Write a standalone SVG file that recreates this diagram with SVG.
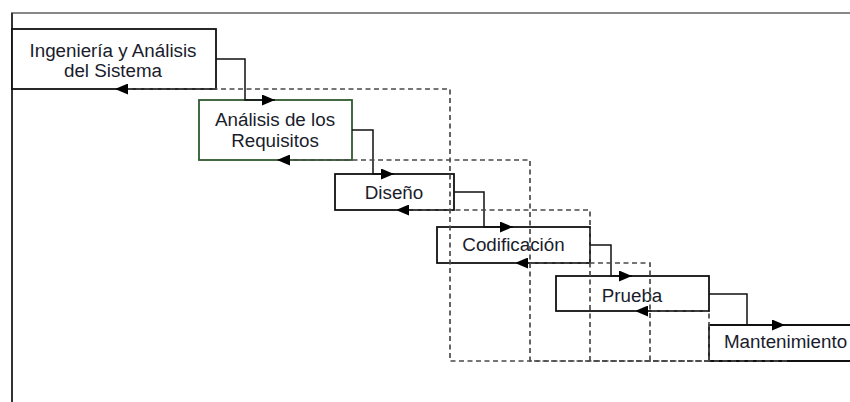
<svg xmlns="http://www.w3.org/2000/svg" width="850" height="402" viewBox="0 0 850 402">
<style>
.box{fill:#fff;stroke:#111;stroke-width:1.8}
.green{stroke:#2f5a2f}
.lbl{font-family:"Liberation Sans",Arial,sans-serif;font-size:18.8px;fill:#1a1c2c;text-anchor:middle}
.fwd{fill:none;stroke:#111;stroke-width:1.5}
.fb{fill:none;stroke:#4a4a4a;stroke-width:1.7;stroke-dasharray:5 3.5}
</style>
<defs>
<marker id="ah" markerWidth="13" markerHeight="11" refX="13" refY="5.5" orient="auto" markerUnits="userSpaceOnUse">
<path d="M0,0 L13,5.5 L0,11 z" fill="#000"/>
</marker>
</defs>
<rect x="0" y="0" width="850" height="402" fill="#fff"/>
<g id="frame">
<line x1="11" y1="13" x2="850" y2="13" stroke="#888" stroke-width="2"/>
<line x1="12" y1="13" x2="12" y2="402" stroke="#333" stroke-width="2"/>
</g>
<g id="n1">
<rect class="box" x="12" y="29" width="204" height="60"/>
<text class="lbl" x="113" y="57">Ingeniería y Análisis</text>
<text class="lbl" x="113" y="77">del Sistema</text>
</g>
<g id="n2">
<rect class="box green" x="199" y="100" width="153" height="60"/>
<text class="lbl" x="275" y="126">Análisis de los</text>
<text class="lbl" x="275" y="147">Requisitos</text>
</g>
<g id="n3">
<rect class="box" x="335" y="174" width="119" height="36"/>
<text class="lbl" x="394" y="199">Diseño</text>
</g>
<g id="n4">
<rect class="box" x="437" y="227" width="153" height="36"/>
<text class="lbl" x="513.5" y="251">Codificación</text>
</g>
<g id="n5">
<rect class="box" x="556" y="276" width="153" height="35"/>
<text class="lbl" x="632" y="302">Prueba</text>
</g>
<g id="n6">
<path class="box" d="M852,325 H709 V361 H852"/>
<text class="lbl" x="785.5" y="348">Mantenimiento</text>
</g>
<g id="connectors">
<path class="fwd" d="M216,59 H245 V100 H275" marker-end="url(#ah)"/>
<path class="fwd" d="M352,130 H373 V174 H394" marker-end="url(#ah)"/>
<path class="fwd" d="M454,192 H484 V227 H513" marker-end="url(#ah)"/>
<path class="fwd" d="M590,245 H611 V276 H632" marker-end="url(#ah)"/>
<path class="fwd" d="M709,294 H747 V325 H785" marker-end="url(#ah)"/>
<path class="fb" d="M787,361 H450 V89 H115" marker-end="url(#ah)"/>
<path class="fb" d="M709,361 H530 V160 H277" marker-end="url(#ah)"/>
<path class="fb" d="M709,361 H590 V210 H396" marker-end="url(#ah)"/>
<path class="fb" d="M709,361 H650 V263 H515" marker-end="url(#ah)"/>
<path class="fb" d="M709,361 V311 H635" marker-end="url(#ah)"/>
</g>
</svg>
